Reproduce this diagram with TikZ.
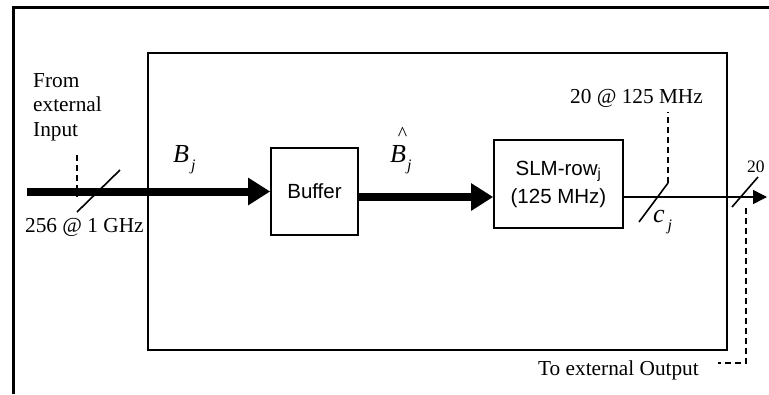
\documentclass[tikz,border=0pt]{standalone}
\usepackage{fontspec}
\setmainfont{Liberation Serif}
\setsansfont{Liberation Sans}
\usetikzlibrary{calc}
\usetikzlibrary{arrows.meta}

\newcommand{\subj}{\raisebox{-8pt}{\fontsize{16}{16}\selectfont j}}
\newcommand{\hatB}{\ooalign{B\cr\hidewidth\kern9pt\raisebox{22pt}{\upshape\fontsize{20}{20}\selectfont\textasciicircum}\hidewidth\cr}}

\begin{document}
\begin{tikzpicture}[x=1pt,y=-1pt,
  blk/.style={draw, line width=1.6pt, inner sep=0pt, align=center, font=\sffamily\fontsize{20.5}{28}\selectfont},
  bus/.style={line width=8pt, -{Triangle[length=22pt,width=26pt]}},
  sig/.style={line width=1.6pt, -{Triangle[length=14pt,width=14pt]}},
  tick/.style={line width=1.6pt},
  lead/.style={line width=1.4pt, dash pattern=on 6pt off 4pt},
  lbl/.style={inner sep=0pt, font=\fontsize{21.3}{24.5}\selectfont},
  sym/.style={inner sep=0pt, anchor=base west, font=\fontsize{26}{26}\selectfont\itshape}]
\useasboundingbox (0,0) rectangle (769,394);

\draw[line width=3pt] (13,394) -- (13,7) -- (769,7);
\draw[line width=1.8pt] (148,53) rectangle (727,350);

\node[blk, minimum width=87, minimum height=87] (buf) at (314.5,191.5) {Buffer};
\node[blk, minimum width=129, minimum height=88] (slm) at (558.5,184) {SLM-row\textsubscript{j}\\(125 MHz)};

\coordinate (in) at (27,191.5);
\coordinate (lvl) at (0,197);
\coordinate (out) at (767,197);

\draw[bus] (in) -- (buf.west);
\draw[bus] (buf.east |- lvl) -- (slm.west |- lvl);
\draw[sig] (slm.east |- lvl) -- (out);

\coordinate (t1a) at (77,212);  \coordinate (t1b) at (120,170);
\coordinate (t2a) at (639,222); \coordinate (t2b) at (668,183);
\coordinate (t3a) at (732,207); \coordinate (t3b) at (758,177);

\draw[tick] (t1a) -- (t1b);
\draw[tick] (t2a) -- (t2b);
\draw[tick] (t3a) -- (t3b);

\draw[lead] (77,155) -- (77,197);
\draw[lead] (t2b) -- ++(0,-71);
\draw[lead] (746,208) |- (718,363);

\node[lbl, align=left, anchor=north west] (src) at (33,73) {From\\external\\Input};
\node[lbl, anchor=base west] (inw) at (25,232) {256 @ 1 GHz};
\node[lbl, anchor=base west] (slmw) at (570,103) {20 @ 125 MHz};
\node[lbl, anchor=base west, font=\fontsize{17.5}{20}\selectfont] (outw) at (747,172) {20};
\node[lbl, anchor=base west] (dst) at (538,375) {To external Output};

\node[sym] (bj) at (173,162) {B\kern2pt\subj};
\node[sym] (bhj) at (390,162) {\hatB\kern1pt\subj};
\node[sym] (cj) at (653,222) {c\kern3pt\subj};

\end{tikzpicture}
\end{document}
